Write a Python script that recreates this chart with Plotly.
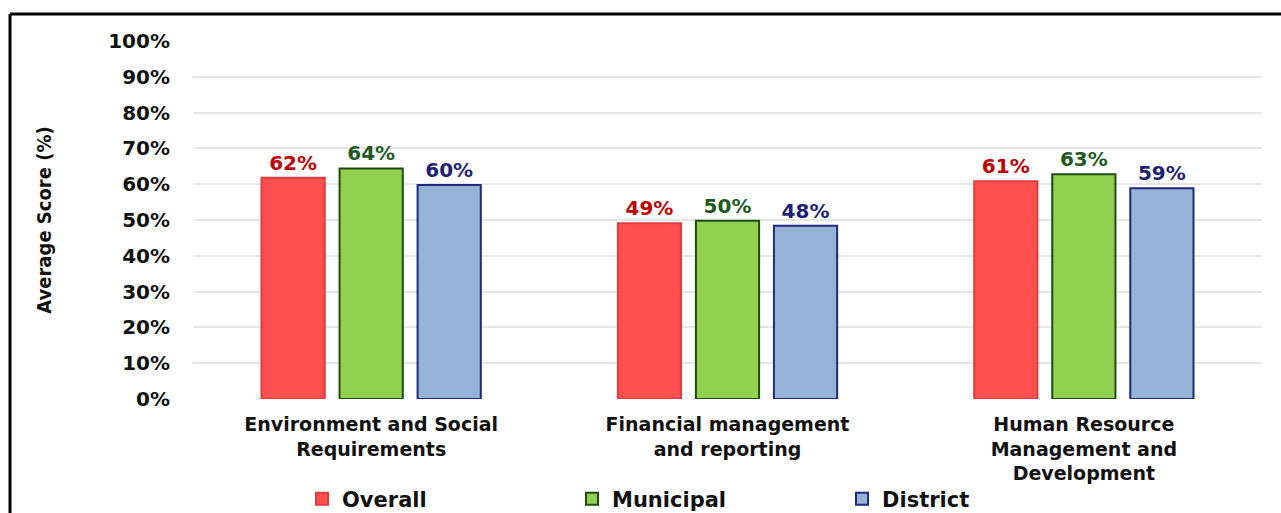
import plotly.graph_objects as go

categories = ["Environment and Social<br>Requirements",
              "Financial management<br>and reporting",
              "Human Resource<br>Management and<br>Development"]
series_names = ["Overall", "Municipal", "District"]
overall = [61.8, 49.1, 60.8]
municipal = [64.4, 49.8, 62.8]
district = [59.8, 48.4, 58.9]
tick_vals = [0, 10, 20, 30, 40, 50, 60, 70, 80, 90, 100]
tick_text = [f"{v}%" for v in tick_vals]

fills = ["#FF4F4F", "#92D050", "#95B3D7"]
edges = ["#E03C3C", "#1E4D14", "#1F2A80"]
label_colors = ["#C00000", "#1E5A1E", "#1F1F7A"]

W, H = 1281, 513
L, R, T, B = 193, 19, 41, 114
pw, ph = W - L - R, H - T - B
FONT = "DejaVu Sans"

fig = go.Figure()
for name, vals, fc, ec, lc in zip(series_names, [overall, municipal, district], fills, edges, label_colors):
    fig.add_trace(go.Bar(
        x=categories, y=vals, name=name,
        marker=dict(color=fc, line=dict(color=ec, width=2)),
        text=[f"{round(v)}%" for v in vals], textposition="outside",
        textfont=dict(family=FONT, size=20, color=lc, weight="bold"),
        cliponaxis=False,
    ))

def px_x(x):
    return (x - L) / pw

def px_y(y):
    return (H - B - y) / ph

fig.update_layout(
    width=W, height=H,
    margin=dict(l=L, r=R, t=T, b=B, autoexpand=False),
    paper_bgcolor="white", plot_bgcolor="white",
    barmode="group", bargap=0.343, bargroupgap=0.19,
    font=dict(family=FONT, color="#1a1a1a"),
    showlegend=True,
    legend=dict(orientation="h", x=px_x(302), xanchor="left", y=px_y(499), yanchor="middle",
                font=dict(family=FONT, size=21, color="#111", weight="bold"),
                entrywidth=225, entrywidthmode="pixels", traceorder="normal",
                itemwidth=30, bgcolor="rgba(0,0,0,0)"),
    xaxis=dict(showgrid=False, showline=False, ticks="", automargin=False,
               ticklabelstandoff=12,
               tickfont=dict(family=FONT, size=19, color="#111", weight="bold")),
    yaxis=dict(range=[0, 100], tickvals=tick_vals, ticktext=tick_text,
               showgrid=True, gridcolor="#E6E6E6", gridwidth=2, automargin=False,
               zeroline=False, showline=False, ticks="",
               ticklabelstandoff=22,
               tickfont=dict(family=FONT, size=20, color="#111", weight="bold"),
               title=dict(text="Average Score (%)", standoff=51,
                          font=dict(family="DejaVu Sans Condensed", size=20, color="#111", weight="bold"))),
    shapes=[
        dict(type="line", xref="paper", yref="paper", x0=px_x(10), x1=px_x(1290), y0=px_y(14), y1=px_y(14),
             line=dict(color="black", width=3)),
        dict(type="line", xref="paper", yref="paper", x0=px_x(10), x1=px_x(10), y0=px_y(14), y1=px_y(520),
             line=dict(color="black", width=3)),
    ],
)
fig.write_html("out.html", config={"displayModeBar": False},
               post_script="document.body.style.margin='0';document.body.style.overflow='hidden';")
